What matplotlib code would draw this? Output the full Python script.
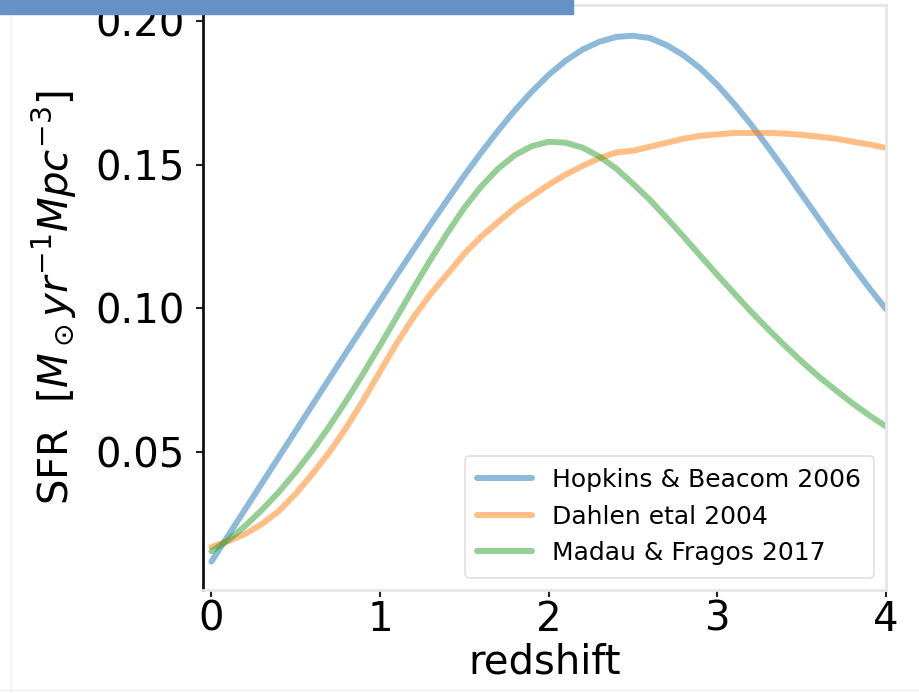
import numpy as np
import matplotlib
matplotlib.use("Agg")
import matplotlib.pyplot as plt
from matplotlib.patches import Rectangle
from matplotlib.lines import Line2D

# ------------------------------------------------------------------
# Datos (paso 0.1 en redshift)
# ------------------------------------------------------------------

redshift = [0.0, 0.1, 0.2, 0.3, 0.4, 0.5, 0.6, 0.7, 0.8, 0.9,
            1.0, 1.1, 1.2, 1.3, 1.4, 1.5, 1.6, 1.7, 1.8, 1.9,
            2.0, 2.1, 2.2, 2.3, 2.4, 2.5, 2.6, 2.7, 2.8, 2.9,
            3.0, 3.1, 3.2, 3.3, 3.4, 3.5, 3.6, 3.7, 3.8, 3.9, 4.0]

sfr_hopkins = [0.0119, 0.0210, 0.0301, 0.0392, 0.0483, 0.0574, 0.0665, 0.0756,
               0.0847, 0.0937, 0.1027, 0.1117, 0.1205, 0.1293, 0.1378, 0.1462,
               0.1542, 0.1618, 0.1689, 0.1754, 0.1812, 0.1861, 0.1900, 0.1927,
               0.1944, 0.1948, 0.1940, 0.1915, 0.1880, 0.1834, 0.1777, 0.1711,
               0.1639, 0.1561, 0.1480, 0.1396, 0.1313, 0.1230, 0.1149, 0.1071,
               0.0997]

sfr_dahlen = [0.0170, 0.0190, 0.0215, 0.0250, 0.0295, 0.0355, 0.0425, 0.0500,
              0.0585, 0.0680, 0.0780, 0.0880, 0.0970, 0.1050, 0.1120, 0.1190,
              0.1250, 0.1300, 0.1350, 0.1390, 0.1430, 0.1465, 0.1495, 0.1522,
              0.1542, 0.1548, 0.1562, 0.1576, 0.1590, 0.1600, 0.1605, 0.1610,
              0.1610, 0.1610, 0.1608, 0.1603, 0.1597, 0.1590, 0.1580, 0.1570,
              0.1558]

sfr_madau = [0.0155, 0.0194, 0.0243, 0.0299, 0.0361, 0.0431, 0.0507, 0.0590,
             0.0679, 0.0773, 0.0871, 0.0971, 0.1072, 0.1170, 0.1263, 0.1350,
             0.1424, 0.1486, 0.1533, 0.1564, 0.1579, 0.1576, 0.1559, 0.1528,
             0.1486, 0.1433, 0.1377, 0.1314, 0.1249, 0.1182, 0.1116, 0.1052,
             0.0988, 0.0928, 0.0870, 0.0815, 0.0763, 0.0716, 0.0670, 0.0628,
             0.0589]

etiquetas = ["Hopkins & Beacom 2006", "Dahlen etal 2004", "Madau & Fragos 2017"]
colores = ["tab:blue", "tab:orange", "tab:green"]

# ------------------------------------------------------------------
# Figura
# ------------------------------------------------------------------

fig = plt.figure(figsize=(9.19, 6.93), dpi=100)
ax = fig.add_axes([0.2209, 0.1486, 0.7432, 0.8442])

for serie, etiqueta, color in zip([sfr_hopkins, sfr_dahlen, sfr_madau],
                                   etiquetas, colores):
    ax.plot(redshift, serie, color=color, alpha=0.5, linewidth=4.3,
            label=etiqueta, solid_capstyle='round')

ax.set_xlim(-0.05, 4.0)
ax.set_ylim(0.002, 0.2055)
ax.set_xticks([0, 1, 2, 3, 4])
ax.set_yticks([0.05, 0.10, 0.15, 0.20])
ax.set_yticklabels(["0.05", "0.10", "0.15", "0.20"])

ax.tick_params(axis='both', labelsize=29, length=5, width=1.5,
               colors='#222222', labelcolor='black')
ax.tick_params(axis='x', pad=2)
ax.tick_params(axis='y', pad=8)

for lado in ['top', 'right', 'bottom']:
    ax.spines[lado].set_color('#e6e6e6')
    ax.spines[lado].set_linewidth(2)
ax.spines['left'].set_color('#111111')
ax.spines['left'].set_linewidth(2)

ax.set_xlabel("redshift", fontsize=29, labelpad=2)
ax.set_ylabel(r"SFR  [$M_\odot yr^{-1} Mpc^{-3}$]", fontsize=29, labelpad=12)

leg = ax.legend(loc='lower right', fontsize=18, frameon=True,
                handlelength=2.2, borderpad=0.5, labelspacing=0.5)
leg.get_frame().set_edgecolor('#d8d8d8')
leg.get_frame().set_linewidth(1.2)

# barra azul superior y bordes tenues de la captura
fig.patches.append(Rectangle((0, 1 - 14 / 693), 573 / 919, 14 / 693,
                             transform=fig.transFigure, color='#6591c7',
                             zorder=10))
fig.lines.append(Line2D([11 / 919, 11 / 919], [0, 1], transform=fig.transFigure,
                        color='#f0f0f0', linewidth=1))
fig.lines.append(Line2D([0, 1], [3 / 693, 3 / 693], transform=fig.transFigure,
                        color='#ececec', linewidth=1))

fig.savefig("out.png", dpi=100)
